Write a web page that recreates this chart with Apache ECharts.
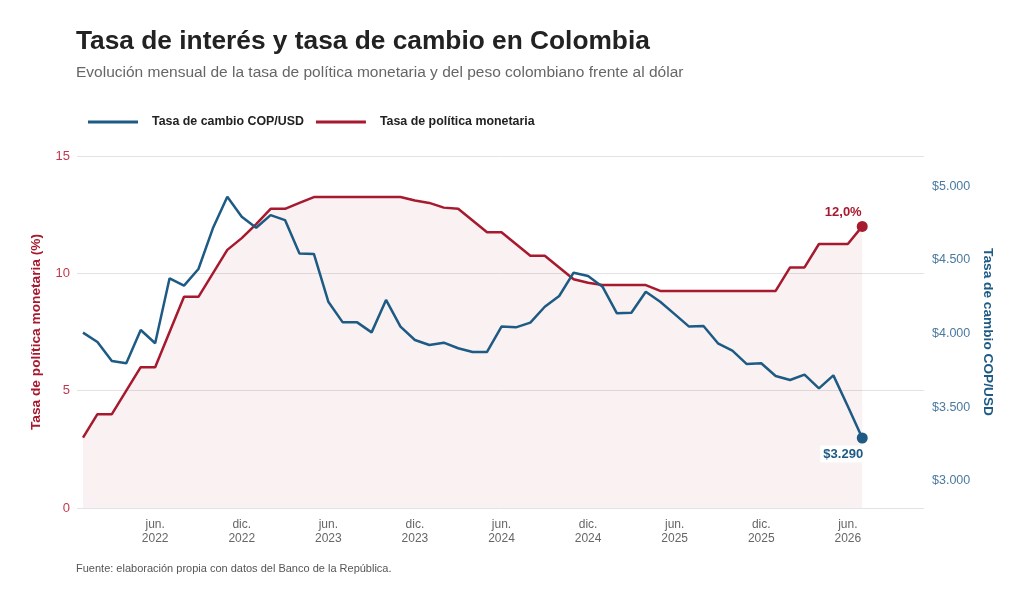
<!DOCTYPE html>
<html>
<head>
<meta charset="utf-8">
<script src="https://cdn.jsdelivr.net/npm/echarts@6/dist/echarts.min.js"></script>
<style>
  html, body { margin: 0; padding: 0; background: #fff; }
  #chart { width: 1026px; height: 599px; }
</style>
</head>
<body>
<div id="chart"></div>
<script>
// ==============================================================
// Datos (mensual, ene. 2022 - jul. 2026)
// ==============================================================
var months = [
  '2022-01','2022-02','2022-03','2022-04','2022-05','2022-06','2022-07','2022-08','2022-09','2022-10','2022-11','2022-12',
  '2023-01','2023-02','2023-03','2023-04','2023-05','2023-06','2023-07','2023-08','2023-09','2023-10','2023-11','2023-12',
  '2024-01','2024-02','2024-03','2024-04','2024-05','2024-06','2024-07','2024-08','2024-09','2024-10','2024-11','2024-12',
  '2025-01','2025-02','2025-03','2025-04','2025-05','2025-06','2025-07','2025-08','2025-09','2025-10','2025-11','2025-12',
  '2026-01','2026-02','2026-03','2026-04','2026-05','2026-06','2026-07'
];

// tasa de politica monetaria (%)
var rate = [
  3.0, 4.0, 4.0, 5.0, 6.0, 6.0, 7.5, 9.0, 9.0, 10.0, 11.0, 11.5,
  12.1, 12.75, 12.75, 13.0, 13.25, 13.25, 13.25, 13.25, 13.25, 13.25, 13.25, 13.1,
  13.0, 12.8, 12.75, 12.25, 11.75, 11.75, 11.25, 10.75, 10.75, 10.25, 9.75, 9.6,
  9.5, 9.5, 9.5, 9.5, 9.25, 9.25, 9.25, 9.25, 9.25, 9.25, 9.25, 9.25,
  9.25, 10.25, 10.25, 11.25, 11.25, 11.25, 12.0
];

// tasa de cambio COP/USD
var fx = [
  4005, 3942, 3813, 3797, 4023, 3933, 4374, 4324, 4437, 4713, 4928, 4792,
  4717, 4803, 4769, 4543, 4539, 4215, 4075, 4075, 4007, 4227, 4046, 3955,
  3921, 3937, 3899, 3874, 3874, 4046, 4041, 4073, 4181, 4254, 4412, 4389,
  4317, 4136, 4140, 4283, 4215, 4131, 4046, 4050, 3933, 3883, 3792, 3797,
  3711, 3684, 3720, 3627, 3715, 3505, 3290
];

// marcas del eje x (indice de mes) y sus etiquetas
var xTicks = [5, 11, 17, 23, 29, 35, 41, 47, 53];
var xTickLabels = ['jun.\n2022','dic.\n2022','jun.\n2023','dic.\n2023','jun.\n2024','dic.\n2024','jun.\n2025','dic.\n2025','jun.\n2026'];
var rateTicks = [0, 5, 10, 15];
var fxTicks = [3000, 3500, 4000, 4500, 5000];

var RED = '#a6192e';
var BLUE = '#1d5a84';
var FONT = '"Liberation Sans", Arial, sans-serif';

function miles(v) {
  return String(v).replace(/\B(?=(\d{3})+(?!\d))/g, '.');
}

var rateData = rate.map(function (v, i) { return [i, v]; });
var fxData = fx.map(function (v, i) { return [i, v]; });
var last = rate.length - 1;

var myChart = echarts.init(document.getElementById('chart'));

option = {
    backgroundColor: '#fff',
    textStyle: { fontFamily: FONT },
    title: {
        text: 'Tasa de interés y tasa de cambio en Colombia',
        subtext: 'Evolución mensual de la tasa de política monetaria y del peso colombiano frente al dólar',
        left: 71,
        top: 24,
        itemGap: 10,
        textStyle: { fontFamily: FONT, fontSize: 26.3, fontWeight: 'bold', color: '#222' },
        subtextStyle: { fontFamily: FONT, fontSize: 15.5, color: '#666' }
    },
    legend: {
        data: ['Tasa de cambio COP/USD', 'Tasa de política monetaria'],
        left: 83,
        top: 111,
        icon: 'rect',
        itemWidth: 50,
        itemHeight: 3,
        itemGap: 12,
        textStyle: { fontFamily: FONT, fontSize: 12.4, fontWeight: 'bold', color: '#222', padding: [0, 0, 0, 9] }
    },
    grid: { left: 77, right: 102, top: 156, bottom: 91 },
    xAxis: {
        type: 'value',
        min: -0.416,
        max: 58.28,
        axisLine: { show: false },
        axisTick: { show: false },
        splitLine: { show: false },
        axisLabel: {
            customValues: xTicks,
            color: '#666',
            fontSize: 12,
            lineHeight: 13.5,
            margin: 10,
            formatter: function (v) {
                var k = xTicks.indexOf(Math.round(v));
                return k >= 0 ? xTickLabels[k] : '';
            }
        }
    },
    yAxis: [
        {
            type: 'value',
            min: 0,
            max: 15,
            interval: 5,
            name: 'Tasa de política monetaria (%)',
            nameLocation: 'middle',
            nameRotate: 90,
            nameGap: 34,
            nameTextStyle: { color: RED, fontSize: 13.7, fontWeight: 'bold' },
            axisLine: { show: false },
            axisTick: { show: false },
            axisLabel: { color: '#c0394f', fontSize: 13, margin: 7 },
            splitLine: { lineStyle: { color: '#e3e3e3', width: 1 } }
        },
        {
            type: 'value',
            min: 2815,
            max: 5204,
            position: 'right',
            name: 'Tasa de cambio COP/USD',
            nameLocation: 'middle',
            nameRotate: -90,
            nameGap: 55,
            nameTextStyle: { color: BLUE, fontSize: 13.7, fontWeight: 'bold' },
            axisLine: { show: false },
            axisTick: { show: false },
            splitLine: { show: false },
            axisLabel: {
                customValues: fxTicks,
                color: '#4a7aa0',
                fontSize: 12.5,
                margin: 8,
                formatter: function (v) { return '$' + miles(v); }
            }
        }
    ],
    series: [
        {
            name: 'Tasa de política monetaria',
            type: 'line',
            yAxisIndex: 0,
            data: rateData,
            showSymbol: false,
            color: RED,
            lineStyle: { width: 2.5, color: RED },
            areaStyle: { color: 'rgba(166, 25, 46, 0.09)' },
            z: 2
        },
        {
            name: 'Tasa de cambio COP/USD',
            type: 'line',
            yAxisIndex: 1,
            data: fxData,
            showSymbol: false,
            color: BLUE,
            lineStyle: { width: 2.5, color: BLUE },
            z: 3
        },
        {
            type: 'scatter',
            yAxisIndex: 0,
            data: [rateData[last]],
            symbolSize: 11,
            itemStyle: { color: RED, opacity: 1 },
            label: {
                show: true,
                position: 'top',
                offset: [-19, 3],
                color: RED,
                fontWeight: 'bold',
                fontSize: 13,
                formatter: function (p) { return p.value[1].toFixed(1).replace('.', ',') + '%'; }
            },
            z: 4
        },
        {
            type: 'scatter',
            yAxisIndex: 1,
            data: [fxData[last]],
            symbolSize: 11,
            itemStyle: { color: BLUE, opacity: 1 },
            label: {
                show: true,
                position: 'bottom',
                offset: [-19, -3],
                color: BLUE,
                fontWeight: 'bold',
                fontSize: 13,
                backgroundColor: '#fff',
                padding: [2, 3],
                formatter: function (p) { return '$' + miles(p.value[1]); }
            },
            z: 4
        }
    ],
    graphic: [
        {
            type: 'text',
            left: 76,
            top: 563,
            style: {
                text: 'Fuente: elaboración propia con datos del Banco de la República.',
                fill: '#555',
                font: '11px ' + FONT
            }
        }
    ]
};

myChart.setOption(option, true);
</script>
</body>
</html>
